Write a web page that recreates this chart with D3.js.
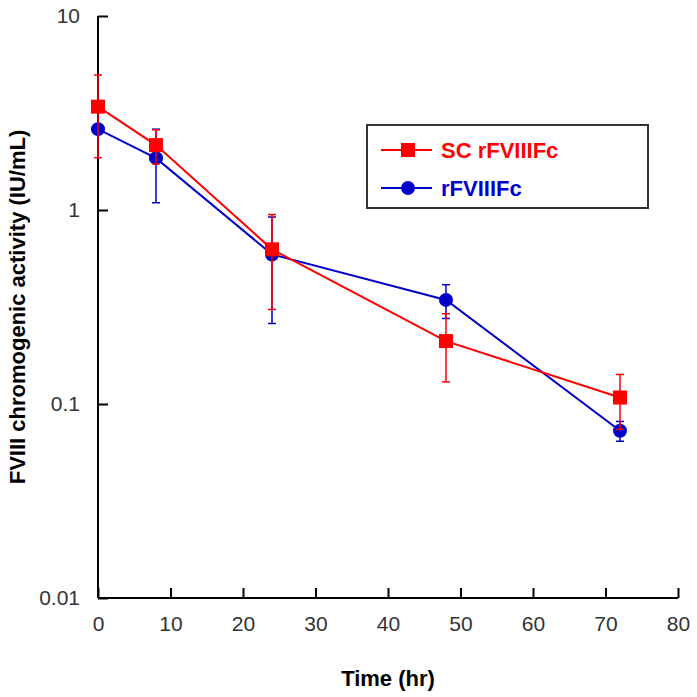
<!DOCTYPE html>
<html lang="en">
<head>
    <meta charset="UTF-8">
    <title>FVIII chromogenic activity</title>
    <script src="https://d3js.org/d3.v7.min.js"></script>
    <style>
        body { margin: 0; background: #fff; }
        svg text { font-family: "Liberation Sans", Arial, sans-serif; }
        .axis path, .axis line { stroke: #000; stroke-width: 2; }
        .axis text { font-size: 21px; fill: #333; }
        .line { fill: none; stroke-width: 2; }
        .err { stroke-width: 1.5; }
    </style>
</head>
<body>
<div id="chart"></div>
<script>
    // sampling times (hr)
    const times = [0, 8, 24, 48, 72];
    // SC rFVIIIFc, mean and SD (IU/mL)
    const scMean = [3.41, 2.16, 0.627, 0.211, 0.108];
    const scSD = [1.55, 0.43, 0.32, 0.081, 0.034];
    // rFVIIIFc, mean and SD (IU/mL)
    const ivMean = [2.61, 1.85, 0.59, 0.344, 0.0728];
    const ivSD = [0.15, 0.76, 0.33, 0.068, 0.0085];

    const xTicks = [0, 10, 20, 30, 40, 50, 60, 70, 80];
    const yTicks = [0.01, 0.1, 1, 10];
    const seriesNames = ["SC rFVIIIFc", "rFVIIIFc"];

    const width = 697, height = 697;
    const margin = {left: 98, right: 19, top: 16, bottom: 99};

    const svg = d3.select("#chart").append("svg")
        .attr("width", width)
        .attr("height", height);

    const x = d3.scaleLinear().domain([0, 80]).range([margin.left, width - margin.right]);
    const y = d3.scaleLog().domain([0.01, 10]).range([height - margin.bottom, margin.top]);

    // axes, ticks pointing inward
    svg.append("g")
        .attr("class", "axis")
        .attr("transform", "translate(0," + (height - margin.bottom) + ")")
        .call(d3.axisBottom(x).tickValues(xTicks).tickSizeInner(-10).tickSizeOuter(0).tickPadding(18))
        .call(g => g.select(".domain").attr("d", "M" + x(0) + ",0H" + x(80)));

    svg.append("g")
        .attr("class", "axis")
        .attr("transform", "translate(" + margin.left + ",0)")
        .call(d3.axisLeft(y).tickValues(yTicks).tickFormat(d => String(d)).tickSizeInner(-10).tickSizeOuter(0).tickPadding(18))
        .call(g => g.select(".domain").attr("d", "M0," + y(10) + "V" + y(0.01)));

    svg.append("text")
        .attr("x", (x(0) + x(80)) / 2)
        .attr("y", 686)
        .attr("text-anchor", "middle")
        .style("font-size", "22px")
        .style("font-weight", "bold")
        .text("Time (hr)");

    svg.append("text")
        .attr("transform", "translate(25," + ((y(10) + y(0.01)) / 2) + ") rotate(-90)")
        .attr("text-anchor", "middle")
        .style("font-size", "22px")
        .style("font-weight", "bold")
        .text("FVIII chromogenic activity (IU/mL)");

    function drawSeries(mean, sd, color, shape) {
        const pts = times.map((t, i) => ({t: t, v: mean[i], sd: sd[i]}));
        const g = svg.append("g");

        const err = g.selectAll(".errbar").data(pts).enter().append("g")
            .attr("class", "err")
            .attr("stroke", color);
        err.append("line")
            .attr("x1", d => x(d.t)).attr("x2", d => x(d.t))
            .attr("y1", d => y(d.v + d.sd)).attr("y2", d => y(Math.max(d.v - d.sd, 0.011)));
        err.append("line")
            .attr("x1", d => x(d.t) - 4).attr("x2", d => x(d.t) + 4)
            .attr("y1", d => y(d.v + d.sd)).attr("y2", d => y(d.v + d.sd));
        err.append("line")
            .attr("x1", d => x(d.t) - 4).attr("x2", d => x(d.t) + 4)
            .attr("y1", d => y(Math.max(d.v - d.sd, 0.011))).attr("y2", d => y(Math.max(d.v - d.sd, 0.011)));

        g.append("path")
            .datum(pts)
            .attr("class", "line")
            .attr("stroke", color)
            .attr("d", d3.line().x(d => x(d.t)).y(d => y(d.v)));

        if (shape === "square") {
            g.selectAll("rect").data(pts).enter().append("rect")
                .attr("x", d => x(d.t) - 7).attr("y", d => y(d.v) - 7)
                .attr("width", 14).attr("height", 14)
                .attr("fill", color);
        } else {
            g.selectAll("circle").data(pts).enter().append("circle")
                .attr("cx", d => x(d.t)).attr("cy", d => y(d.v))
                .attr("r", 7)
                .attr("fill", color);
        }
    }

    drawSeries(ivMean, ivSD, "#0000cc", "circle");
    drawSeries(scMean, scSD, "#ff0000", "square");

    // legend
    const legend = svg.append("g");
    legend.append("rect")
        .attr("x", 367).attr("y", 125)
        .attr("width", 281).attr("height", 83)
        .attr("fill", "#fff")
        .attr("stroke", "#333")
        .attr("stroke-width", 2);

    const legendItems = [
        {name: seriesNames[0], color: "#ff0000", shape: "square", y: 150},
        {name: seriesNames[1], color: "#0000cc", shape: "circle", y: 188}
    ];
    legendItems.forEach(item => {
        legend.append("line")
            .attr("x1", 381).attr("x2", 432)
            .attr("y1", item.y).attr("y2", item.y)
            .attr("stroke", item.color).attr("stroke-width", 2);
        if (item.shape === "square") {
            legend.append("rect")
                .attr("x", 401).attr("y", item.y - 7)
                .attr("width", 14).attr("height", 14)
                .attr("fill", item.color);
        } else {
            legend.append("circle")
                .attr("cx", 408).attr("cy", item.y).attr("r", 7)
                .attr("fill", item.color);
        }
        legend.append("text")
            .attr("x", 441).attr("y", item.y + 8)
            .style("font-size", "22px")
            .style("font-weight", "bold")
            .attr("fill", item.color)
            .text(item.name);
    });
</script>
</body>
</html>
